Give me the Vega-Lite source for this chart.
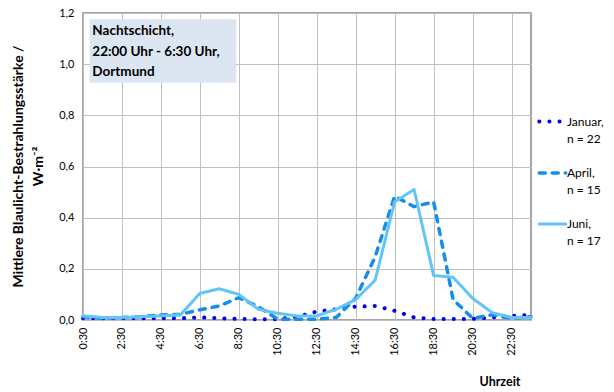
{
  "$schema": "https://vega.github.io/schema/vega-lite/v6.json",
  "autosize": "none",
  "width": 448,
  "height": 307,
  "padding": {"left": 83, "top": 13, "right": 83, "bottom": 72},
  "background": "white",
  "config": {
    "font": "Lato",
    "view": {"stroke": "#878787", "strokeWidth": 1.5},
    "axis": {"gridColor": "#c0c0c0", "gridWidth": 1, "domain": false, "ticks": false, "labelColor": "black", "titleColor": "black", "labelFont": "Lato", "titleFont": "Lato"}
  },
  "datasets": {
    "main": [
      {"h":0.5,"s":"Januar","v":0.007},{"h":1.5,"s":"Januar","v":0.007},{"h":2.5,"s":"Januar","v":0.007},{"h":3.5,"s":"Januar","v":0.007},{"h":4.5,"s":"Januar","v":0.007},{"h":5.5,"s":"Januar","v":0.007},{"h":6.5,"s":"Januar","v":0.01},{"h":7.5,"s":"Januar","v":0.007},{"h":8.5,"s":"Januar","v":0.004},{"h":9.5,"s":"Januar","v":0.003},{"h":10.5,"s":"Januar","v":0.003},{"h":11.5,"s":"Januar","v":0.013},{"h":12.5,"s":"Januar","v":0.033},{"h":13.5,"s":"Januar","v":0.042},{"h":14.5,"s":"Januar","v":0.052},{"h":15.5,"s":"Januar","v":0.055},{"h":16.5,"s":"Januar","v":0.036},{"h":17.5,"s":"Januar","v":0.01},{"h":18.5,"s":"Januar","v":0.004},{"h":19.5,"s":"Januar","v":0.004},{"h":20.5,"s":"Januar","v":0.004},{"h":21.5,"s":"Januar","v":0.01},{"h":22.5,"s":"Januar","v":0.016},{"h":23.5,"s":"Januar","v":0.02},
      {"h":0.5,"s":"April","v":0.013},{"h":1.5,"s":"April","v":0.007},{"h":2.5,"s":"April","v":0.01},{"h":3.5,"s":"April","v":0.013},{"h":4.5,"s":"April","v":0.02},{"h":5.5,"s":"April","v":0.022},{"h":6.5,"s":"April","v":0.04},{"h":7.5,"s":"April","v":0.055},{"h":8.5,"s":"April","v":0.087},{"h":9.5,"s":"April","v":0.052},{"h":10.5,"s":"April","v":0.003},{"h":11.5,"s":"April","v":0.003},{"h":12.5,"s":"April","v":0.003},{"h":13.5,"s":"April","v":0.01},{"h":14.5,"s":"April","v":0.085},{"h":15.5,"s":"April","v":0.247},{"h":16.5,"s":"April","v":0.484},{"h":17.5,"s":"April","v":0.443},{"h":18.5,"s":"April","v":0.462},{"h":19.5,"s":"April","v":0.08},{"h":20.5,"s":"April","v":0.007},{"h":21.5,"s":"April","v":0.02},{"h":22.5,"s":"April","v":0.007},{"h":23.5,"s":"April","v":0.013},
      {"h":0.5,"s":"Juni","v":0.016},{"h":1.5,"s":"Juni","v":0.01},{"h":2.5,"s":"Juni","v":0.01},{"h":3.5,"s":"Juni","v":0.013},{"h":4.5,"s":"Juni","v":0.016},{"h":5.5,"s":"Juni","v":0.02},{"h":6.5,"s":"Juni","v":0.104},{"h":7.5,"s":"Juni","v":0.122},{"h":8.5,"s":"Juni","v":0.1},{"h":9.5,"s":"Juni","v":0.042},{"h":10.5,"s":"Juni","v":0.026},{"h":11.5,"s":"Juni","v":0.016},{"h":12.5,"s":"Juni","v":0.016},{"h":13.5,"s":"Juni","v":0.042},{"h":14.5,"s":"Juni","v":0.08},{"h":15.5,"s":"Juni","v":0.156},{"h":16.5,"s":"Juni","v":0.462},{"h":17.5,"s":"Juni","v":0.51},{"h":18.5,"s":"Juni","v":0.174},{"h":19.5,"s":"Juni","v":0.167},{"h":20.5,"s":"Juni","v":0.085},{"h":21.5,"s":"Juni","v":0.029},{"h":22.5,"s":"Juni","v":0.01},{"h":23.5,"s":"Juni","v":0.01}
    ]
  },
  "layer": [
    {
      "data": {"name": "main"},
      "mark": {"type": "line", "strokeCap": "round", "strokeJoin": "round"},
      "encoding": {
        "x": {"field": "h", "type": "quantitative",
          "scale": {"domain": [0.5, 23.5], "nice": false, "zero": false},
          "axis": {"values": [0.5,2.5,4.5,6.5,8.5,10.5,12.5,14.5,16.5,18.5,20.5,22.5],
            "labelExpr": "floor(datum.value) + ':30'", "labelAngle": 270, "labelAlign": "right", "labelBaseline": "middle", "labelPadding": 7, "labelFontSize": 11,
            "title": "Uhrzeit", "titleFontSize": 12.5, "titleFontWeight": "bold", "titleX": 437, "titleY": 61, "titleAlign": "right", "titleBaseline": "middle", "titleAnchor": null}},
        "y": {"field": "v", "type": "quantitative",
          "scale": {"domain": [0, 1.2], "nice": false},
          "axis": {"values": [0,0.2,0.4,0.6,0.8,1.0,1.2], "labelExpr": "replace(format(datum.value, '.1f'), '.', ',')", "labelPadding": 9, "labelFontSize": 11,
            "title": ["Mittlere Blaulicht-Bestrahlungsstärke /", "W·m⁻²"], "titleFontSize": 14, "titleFontWeight": "bold", "titleAngle": 270, "titleX": -65, "titleY": 153, "titleAlign": "center", "titleBaseline": "middle", "titleLineHeight": 20}},
        "color": {"field": "s", "type": "nominal",
          "scale": {"domain": ["Januar", "April", "Juni"], "range": ["#0000f0", "#168ee8", "#63c5f7"]},
          "legend": {"title": null, "orient": "none", "legendX": 454, "legendY": 93, "symbolType": "stroke", "symbolSize": 700, "symbolStrokeWidth": 3, "labelFontSize": 12, "labelLimit": 100, "rowPadding": 13, "labelOffset": -1,
            "labelExpr": "datum.label == 'Januar' ? ['Januar,', 'n = 22'] : datum.label == 'April' ? ['April,', 'n = 15'] : ['Juni,', 'n = 17']",
            "encode": {"symbols": {"update": {"strokeCap": {"value": "round"}}}, "labels": {"update": {"lineHeight": {"value": 17}}}}}},
        "strokeDash": {"field": "s", "type": "nominal",
          "scale": {"domain": ["Januar", "April", "Juni"], "range": [[0.1, 10], [6, 7], [1, 0]]},
          "legend": null},
        "strokeWidth": {"field": "s", "type": "nominal",
          "scale": {"domain": ["Januar", "April", "Juni"], "range": [4, 3, 3]},
          "legend": null}
      }
    },
    {
      "data": {"values": [{}]},
      "mark": {"type": "rect", "fill": "#dce6f2"},
      "encoding": {"x": {"datum": 0.84}, "x2": {"datum": 8.37}, "y": {"datum": 1.176}, "y2": {"datum": 0.927}}
    },
    {
      "data": {"values": [{}]},
      "mark": {"type": "text", "align": "left", "baseline": "middle", "fontWeight": "bold", "fontSize": 13.5, "lineHeight": 20.5, "font": "Lato"},
      "encoding": {"x": {"datum": 0.98}, "y": {"datum": 1.129}, "text": {"value": ["Nachtschicht,", "22:00 Uhr - 6:30 Uhr,", "Dortmund"]}}
    }
  ]
}
